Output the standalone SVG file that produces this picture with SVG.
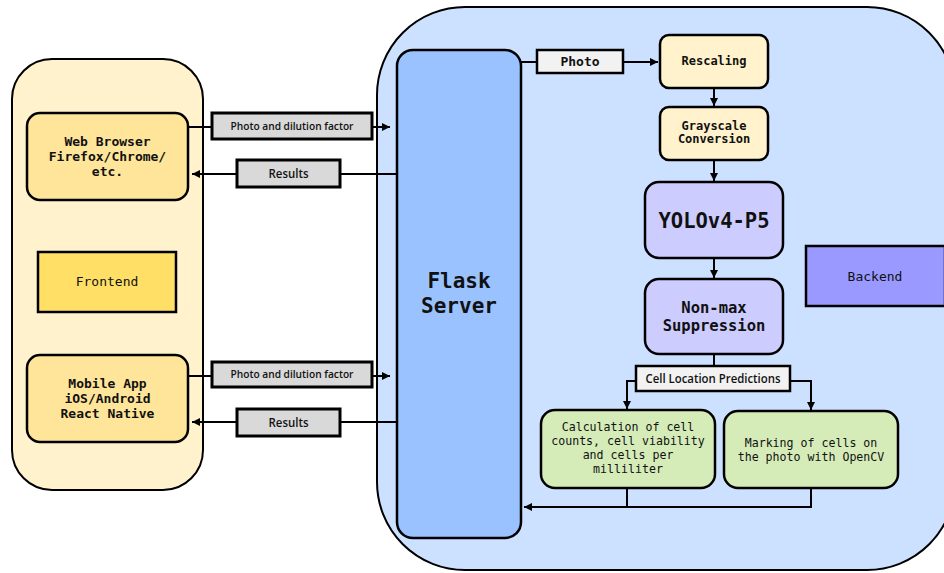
<svg xmlns="http://www.w3.org/2000/svg" width="944" height="573" viewBox="0 0 944 573">
<defs>
<marker id="arr" markerWidth="10" markerHeight="10" refX="8" refY="4" orient="auto" markerUnits="userSpaceOnUse">
<path d="M0,0 L8,4 L0,8 Z" fill="#000"/>
</marker>
<style>
.mono{font-family:"DejaVu Sans Mono","Liberation Mono",monospace;fill:#111;text-anchor:middle}
.b{font-weight:bold}
.sans{font-family:"Open Sans","Noto Sans","Liberation Sans",sans-serif;font-weight:600;fill:#111;text-anchor:middle}
.lbl{fill:#d9d9d9;stroke:#000;stroke-width:3}
.node{stroke:#000;stroke-width:2.5}
.conn{fill:none;stroke:#000;stroke-width:2}
</style>
</defs>
<rect width="944" height="573" fill="#fff"/>

<g id="frontend-container">
<rect x="12" y="59" width="191" height="431" rx="40" fill="#fff2cc" stroke="#000" stroke-width="2"/>
</g>
<g id="backend-container">
<rect x="377" y="7" width="578" height="563" rx="88" fill="#cce0ff" stroke="#000" stroke-width="2"/>
</g>

<g id="connectors">
<path class="conn" d="M188,127 H390" marker-end="url(#arr)"/>
<path class="conn" d="M397,174 H192" marker-end="url(#arr)"/>
<path class="conn" d="M188,376 H390" marker-end="url(#arr)"/>
<path class="conn" d="M397,422 H192" marker-end="url(#arr)"/>
<path class="conn" d="M521,62 H658" marker-end="url(#arr)"/>
<path class="conn" d="M714,88 V106" marker-end="url(#arr)"/>
<path class="conn" d="M714,160 V181" marker-end="url(#arr)"/>
<path class="conn" d="M714,258 V278" marker-end="url(#arr)"/>
<path class="conn" d="M714,354 V366"/>
<path class="conn" d="M636,381 H627 V409" marker-end="url(#arr)"/>
<path class="conn" d="M790,381 H811 V410" marker-end="url(#arr)"/>
<path class="conn" d="M627,488 V507 H524" marker-end="url(#arr)"/>
<path class="conn" d="M811,488 V507 H627"/>
</g>

<g id="label-photo-dilution-1">
<rect class="lbl" x="212" y="113" width="160" height="26"/>
<text class="sans" x="292" y="130" font-size="11" textLength="123" lengthAdjust="spacingAndGlyphs">Photo and dilution factor</text>
</g>
<g id="label-results-1">
<rect class="lbl" x="237" y="160" width="103" height="27"/>
<text class="sans" x="288.5" y="178" font-size="12" textLength="40" lengthAdjust="spacingAndGlyphs">Results</text>
</g>
<g id="label-photo-dilution-2">
<rect class="lbl" x="212" y="362" width="160" height="25"/>
<text class="sans" x="292" y="378" font-size="11" textLength="123" lengthAdjust="spacingAndGlyphs">Photo and dilution factor</text>
</g>
<g id="label-results-2">
<rect class="lbl" x="237" y="409" width="103" height="27"/>
<text class="sans" x="288.5" y="427" font-size="12" textLength="40" lengthAdjust="spacingAndGlyphs">Results</text>
</g>

<g id="web-browser">
<rect class="node" x="27" y="113" width="161" height="87" rx="13" fill="#ffe599"/>
<text class="mono b" font-size="13" x="107.5" y="146">Web Browser</text>
<text class="mono b" font-size="13" x="107.5" y="161">Firefox/Chrome/</text>
<text class="mono b" font-size="13" x="107.5" y="176">etc.</text>
</g>
<g id="frontend-label">
<rect x="38" y="252" width="138" height="60" fill="#ffdf66" stroke="#000" stroke-width="2.5"/>
<text class="mono" font-size="13" x="107" y="286">Frontend</text>
</g>
<g id="mobile-app">
<rect class="node" x="27" y="355" width="161" height="87" rx="13" fill="#ffe599"/>
<text class="mono b" font-size="13" x="107.5" y="388">Mobile App</text>
<text class="mono b" font-size="13" x="107.5" y="403">iOS/Android</text>
<text class="mono b" font-size="13" x="107.5" y="418">React Native</text>
</g>

<g id="flask-server">
<rect class="node" x="397" y="50" width="124" height="488" rx="16" fill="#99c2ff"/>
<text class="mono b" font-size="21" x="459" y="288">Flask</text>
<text class="mono b" font-size="21" x="459" y="313">Server</text>
</g>
<g id="label-photo">
<rect x="537" y="50" width="86" height="23" fill="#f2f2f2" stroke="#000" stroke-width="2.5"/>
<text class="mono b" font-size="13" x="580" y="66">Photo</text>
</g>
<g id="rescaling">
<rect class="node" x="660" y="35" width="108" height="53" rx="9" fill="#fff2cc"/>
<text class="mono b" font-size="12" x="714" y="65">Rescaling</text>
</g>
<g id="grayscale">
<rect class="node" x="660" y="107" width="108" height="53" rx="9" fill="#fff2cc"/>
<text class="mono b" font-size="12" x="714" y="130">Grayscale</text>
<text class="mono b" font-size="12" x="714" y="143">Conversion</text>
</g>
<g id="yolo">
<rect class="node" x="645" y="182" width="138" height="76" rx="14" fill="#ccccff"/>
<text class="mono b" font-size="20.5" x="714" y="228">YOLOv4-P5</text>
</g>
<g id="nms">
<rect class="node" x="645" y="279" width="138" height="75" rx="14" fill="#ccccff"/>
<text class="mono b" font-size="15.5" x="714" y="313">Non-max</text>
<text class="mono b" font-size="15.5" x="714" y="331">Suppression</text>
</g>
<g id="backend-label">
<rect x="806" y="246" width="139" height="60" fill="#9999ff" stroke="#000" stroke-width="2.5"/>
<text class="mono" font-size="13" x="875" y="281">Backend</text>
</g>
<g id="label-cell-location">
<rect x="636" y="366" width="154" height="25" fill="#f2f2f2" stroke="#000" stroke-width="2.5"/>
<text class="sans" x="713" y="383" font-size="12" textLength="135" lengthAdjust="spacingAndGlyphs">Cell Location Predictions</text>
</g>
<g id="calculation">
<rect class="node" x="541" y="410" width="174" height="78" rx="14" fill="#d5ecb9"/>
<text class="mono" font-size="11.6" x="628" y="431">Calculation of cell</text>
<text class="mono" font-size="11.6" x="628" y="445">counts, cell viability</text>
<text class="mono" font-size="11.6" x="628" y="459">and cells per</text>
<text class="mono" font-size="11.6" x="628" y="473">milliliter</text>
</g>
<g id="marking">
<rect class="node" x="724" y="411" width="174" height="77" rx="14" fill="#d5ecb9"/>
<text class="mono" font-size="11.6" x="811" y="447">Marking of cells on</text>
<text class="mono" font-size="11.6" x="811" y="461">the photo with OpenCV</text>
</g>
</svg>
